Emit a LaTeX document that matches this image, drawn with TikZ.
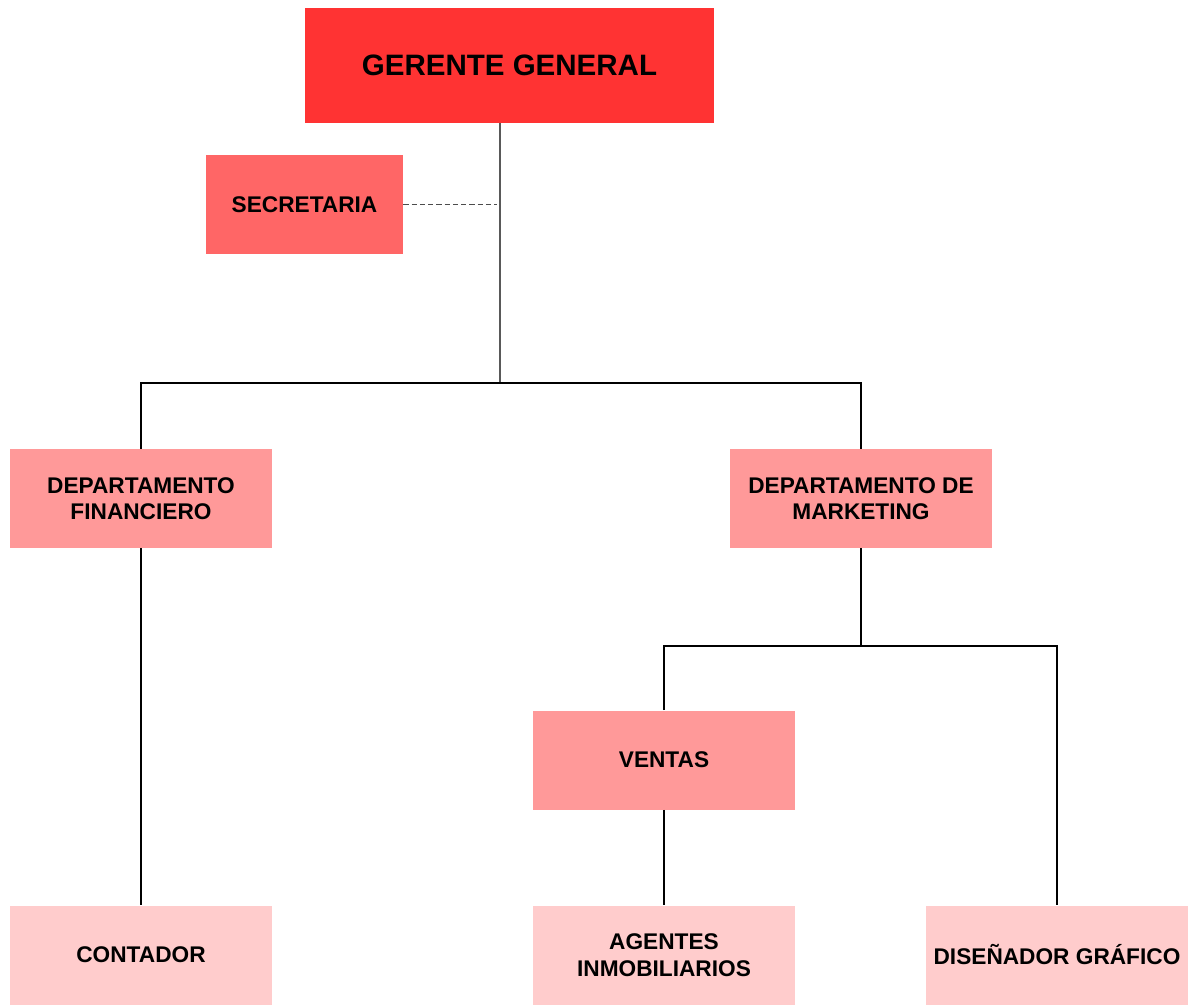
\documentclass[tikz,border=0pt]{standalone}
\usepackage{fontspec}
\setmainfont{Liberation Sans}
\usetikzlibrary{positioning,calc}

\definecolor{jefe}{HTML}{FF3333}
\definecolor{apoyo}{HTML}{FF6666}
\definecolor{depto}{HTML}{FF9999}
\definecolor{base}{HTML}{FFCCCC}

\begin{document}
\begin{tikzpicture}[x=0.02cm, y=-0.02cm]
        \tikzset{box/.style={rectangle, align=center, inner sep=0pt, minimum height=1.98cm, minimum width=5.24cm, font=\bfseries\fontsize{12.9}{15}\selectfont},
                 link/.style={line width=0.7pt, black}}
        \useasboundingbox (0,0) rectangle (1189,1005);
        \node[box, fill=jefe, minimum width=8.18cm, minimum height=2.3cm, font=\bfseries\fontsize{16.8}{19}\selectfont] (gerente) at (509.5,65.5) {GERENTE GENERAL};
        \node[box, fill=apoyo, minimum width=3.94cm] (secretaria) at (304.5,204.5) {SECRETARIA};
        \node[box, fill=depto] (financiero) at (141,498.5) {DEPARTAMENTO\\FINANCIERO};
        \node[box, fill=depto] (marketing) at (861,498.5) {DEPARTAMENTO DE\\MARKETING};
        \node[box, fill=depto] (ventas) at (664,760) {VENTAS};
        \node[box, fill=base] (contador) at (141,955) {CONTADOR};
        \node[box, fill=base] (agentes) at (664,955) {AGENTES\\INMOBILIARIOS};
        \node[box, fill=base] (disenador) at (1057,955) {DISEÑADOR GRÁFICO};
        \coordinate (nivel1) at (500,383);
        \coordinate (nivel2) at (861,646);
        \draw[link, draw=black!65, line width=0.9pt] (gerente.south -| nivel1) -- (nivel1);
        \draw[link, draw=black!70, line width=0.8pt, dash pattern=on 3pt off 1.7pt] (secretaria.east) -- ($(secretaria.east -| nivel1)+(-3,0)$);
        \draw[link] (financiero.north) |- (nivel1) -| (marketing.north);
        \draw[link] (financiero) -- (contador);
        \draw[link] (marketing) -- (nivel2);
        \draw[link] (ventas.north) |- (nivel2) -| (disenador.north);
        \draw[link] (ventas) -- (agentes);
    \end{tikzpicture}
\end{document}
